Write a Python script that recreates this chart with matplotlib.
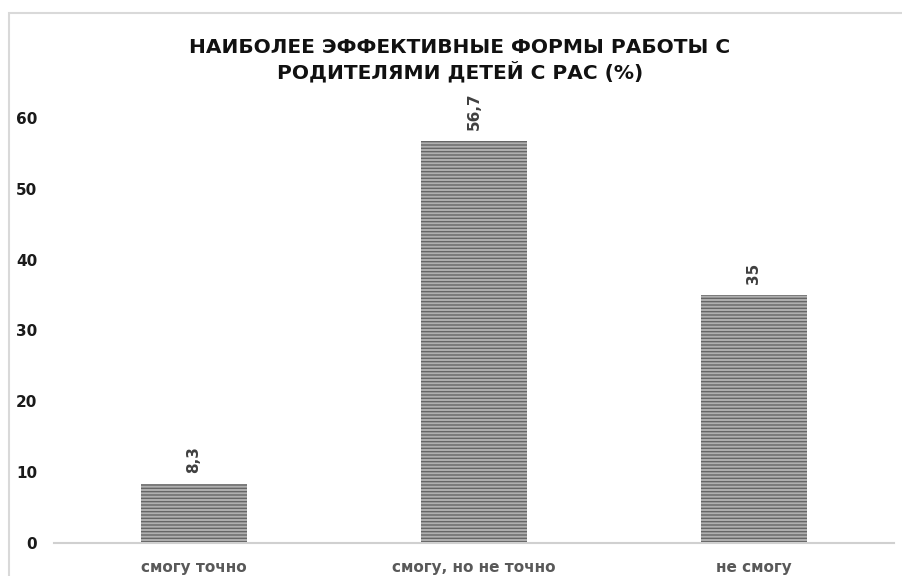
import matplotlib
matplotlib.use("Agg")
import matplotlib.pyplot as plt
from matplotlib.patches import Rectangle

categories = ["смогу точно", "смогу, но не точно", "не смогу"]
values = [8.3, 56.7, 35]
value_labels = ["8,3", "56,7", "35"]
yticks = [0, 10, 20, 30, 40, 50, 60]
title = "НАИБОЛЕЕ ЭФФЕКТИВНЫЕ ФОРМЫ РАБОТЫ С\nРОДИТЕЛЯМИ ДЕТЕЙ С РАС (%)"

plt.rcParams['font.family'] = ['DejaVu Sans']
plt.rcParams['hatch.linewidth'] = 1.0
plt.rcParams['hatch.color'] = '#666666'

fig = plt.figure(figsize=(9.03, 5.76), dpi=100)
fig.patches.append(Rectangle((9/903, -0.1), 1.2, (576-13)/576 + 0.1, transform=fig.transFigure,
                             fill=False, edgecolor='#d9d9d9', linewidth=1.5, figure=fig))
ax = fig.add_axes([54/903, 33/576, 840/903, (543-118)/576])

x = range(len(categories))
bars = ax.bar(x, values, width=0.38, color='#b0b0b0', linewidth=0, hatch='-----')
for b in bars:
    b.set_edgecolor('#666666')
    b.set_linewidth(0)

for xi, v, lab in zip(x, values, value_labels):
    ax.annotate(lab, (xi, v), xytext=(0, 8), textcoords='offset points', rotation=90,
                ha='center', va='bottom', fontsize=11, fontweight='bold', color='#404040',
                annotation_clip=False)

ax.set_xlim(-0.5, 2.5)
ax.set_ylim(0, 60)
ax.set_yticks(yticks)
ax.set_yticklabels([str(t) for t in yticks], fontsize=11, fontweight='bold', color='#1a1a1a')
ax.set_xticks(list(x))
ax.set_xticklabels(categories, fontsize=11, fontweight='bold', color='#595959')
ax.tick_params(axis='x', length=0, pad=12)
ax.tick_params(axis='y', length=0, pad=12)
for s in ['top', 'right', 'left']:
    ax.spines[s].set_visible(False)
ax.spines['bottom'].set_color('#d0d0d0')
ax.spines['bottom'].set_linewidth(1.5)

fig.text(460/903, 1 - 60/576, title, ha='center', va='center', fontsize=14.5,
         fontweight='bold', color='#111111', linespacing=1.25)

fig.savefig("out.png", dpi=100)
